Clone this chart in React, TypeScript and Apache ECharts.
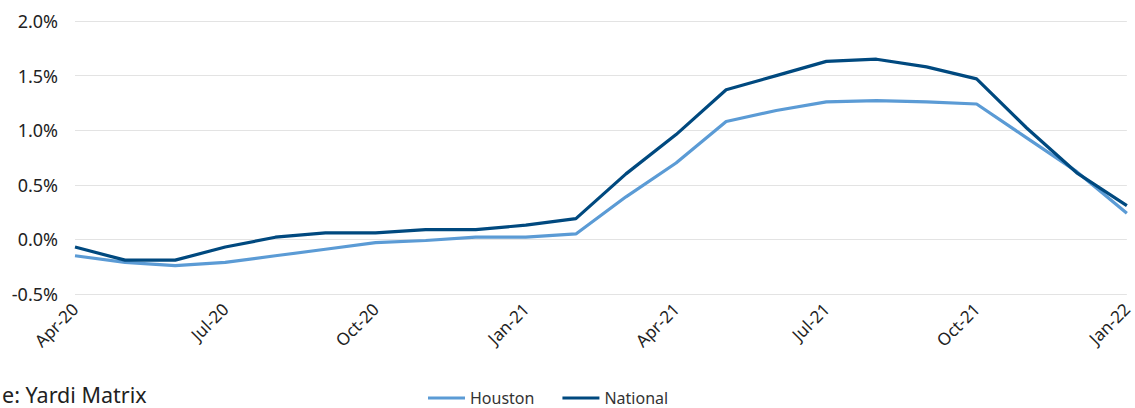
import React, { useEffect, useRef } from "react";
import * as echarts from "echarts";

const months = [
  "Apr-20", "May-20", "Jun-20", "Jul-20", "Aug-20", "Sep-20", "Oct-20", "Nov-20", "Dec-20",
  "Jan-21", "Feb-21", "Mar-21", "Apr-21", "May-21", "Jun-21", "Jul-21", "Aug-21", "Sep-21",
  "Oct-21", "Nov-21", "Dec-21", "Jan-22",
];

const houston = [
  -0.15, -0.21, -0.24, -0.21, -0.15, -0.09, -0.03, -0.01, 0.02, 0.02, 0.05, 0.39,
  0.70, 1.08, 1.18, 1.26, 1.27, 1.26, 1.24, 0.93, 0.62, 0.24,
];

const national = [
  -0.07, -0.19, -0.19, -0.07, 0.02, 0.06, 0.06, 0.09, 0.09, 0.13, 0.19, 0.60,
  0.96, 1.37, 1.50, 1.63, 1.65, 1.58, 1.47, 1.02, 0.61, 0.31,
];

const seriesNames = ["Houston", "National"];
const sourceText = "e: Yardi Matrix";

const FONT = "'Noto Sans', sans-serif";

export default function App() {
  const ref = useRef<HTMLDivElement>(null);
  useEffect(() => {
    document.body.style.margin = "0";
    const chart = echarts.init(ref.current!, null, { renderer: "svg" });
    chart.setOption({
      animation: false,
      backgroundColor: "#ffffff",
      grid: { left: 75, right: 7, top: 21, bottom: 114, containLabel: false },
      legend: {
        data: [
          { name: seriesNames[0], icon: "rect" },
          { name: seriesNames[1], icon: "rect" },
        ],
        left: 428,
        top: 389,
        padding: 0,
        itemWidth: 37,
        itemHeight: 3,
        itemGap: 28,
        textStyle: { fontFamily: FONT, fontSize: 16, lineHeight: 18, color: "#333" },
      },
      xAxis: {
        type: "category",
        data: months,
        boundaryGap: false,
        axisLine: { show: false },
        axisTick: { show: false },
        axisLabel: {
          interval: 2,
          rotate: 45,
          fontFamily: FONT,
          fontSize: 17,
          color: "#222",
          margin: 12,
        },
      },
      yAxis: {
        type: "value",
        min: -0.5,
        max: 2.0,
        interval: 0.5,
        axisLine: { show: false },
        axisTick: { show: false },
        splitLine: { lineStyle: { color: "#e3e3e3", width: 1 } },
        axisLabel: {
          formatter: (v: number) => v.toFixed(1) + "%",
          fontFamily: FONT,
          fontSize: 18,
          color: "#222",
          margin: 17,
        },
      },
      series: [
        {
          name: seriesNames[0],
          type: "line",
          data: houston,
          symbol: "none",
          lineStyle: { color: "#5b9bd5", width: 3.2 },
          itemStyle: { color: "#5b9bd5" },
        },
        {
          name: seriesNames[1],
          type: "line",
          data: national,
          symbol: "none",
          lineStyle: { color: "#00497f", width: 3.2 },
          itemStyle: { color: "#00497f" },
        },
      ],
      graphic: [
        {
          type: "text",
          x: 2,
          y: 394,
          style: {
            text: sourceText,
            fontFamily: FONT,
            fontSize: 21.5,
            lineHeight: 24,
            fill: "#222",
            verticalAlign: "middle",
          },
        },
      ],
    });
    return () => chart.dispose();
  }, []);
  return <div ref={ref} style={{ width: 1135, height: 408 }} />;
}
